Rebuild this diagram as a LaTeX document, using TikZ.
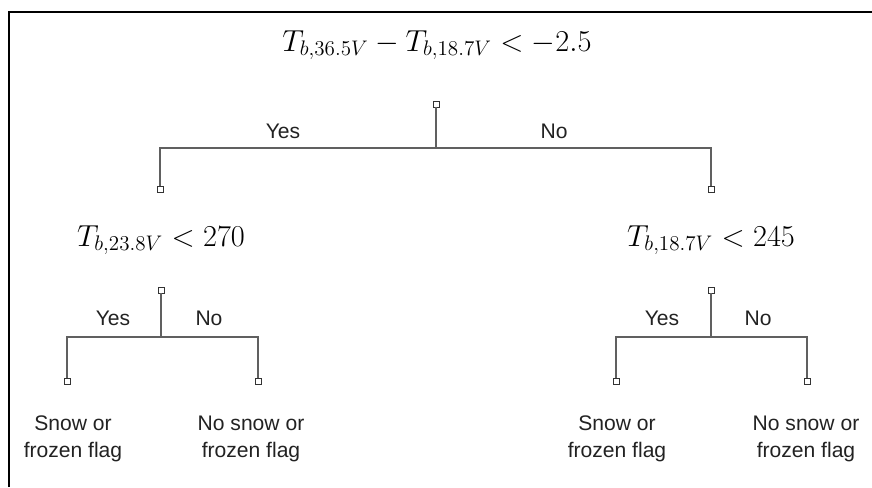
\documentclass[tikz,border=0pt]{standalone}
\usepackage{fontspec}
\newfontfamily\labelfont{Liberation Sans}
\usepackage{xcolor}
\usetikzlibrary{positioning}

\definecolor{linegray}{HTML}{606060}
\definecolor{textgray}{HTML}{222222}

\begin{document}
\begin{tikzpicture}[
    x=0.02cm, y=-0.02cm,
    frame/.style={draw=black,line width=1.1pt},
    branch/.style={draw=linegray,line width=0.8pt},
    knob/.style={rectangle,draw=black!80,fill=white,line width=0.5pt,minimum size=0.12cm,inner sep=0pt},
    test/.style={inner sep=0pt,font=\LARGE},
    answer/.style={inner sep=0pt,text=textgray,font=\labelfont\fontsize{12}{14}\selectfont},
    leaf/.style={inner sep=0pt,align=center,text=textgray,font=\labelfont\fontsize{12}{15.3}\selectfont}
]
\useasboundingbox (0,0) rectangle (872,487);
\draw[frame] (9,487) -- (9,12) -- (872,12);

% root split
\node[test] (root) at (437,45) {$T_{b,36.5V}-T_{b,18.7V}<-2.5$};
\node[knob] (rootk) at (436,104) {};
\coordinate (rootj) at (436,148);
\node[knob] (leftk) at (160,189) {};
\node[knob] (rightk) at (711,189) {};
\draw[branch] (rootk) -- (rootj);
\draw[branch] (leftk) |- (rootj) -| (rightk);
\node[answer] (rooty) at (283,131) {Yes};
\node[answer] (rootn) at (554,131) {No};

% left split
\node[test] (left) at (161,240) {$T_{b,23.8V}<270$};
\node[knob] (leftt) at (161,290) {};
\coordinate (leftj) at (161,337);
\node[knob] (llk) at (67,381) {};
\node[knob] (lrk) at (258,381) {};
\draw[branch] (leftt) -- (leftj);
\draw[branch] (llk) |- (leftj) -| (lrk);
\node[answer] (lefty) at (113,318) {Yes};
\node[answer] (leftn) at (209,318) {No};

% right split
\node[test] (right) at (711,240) {$T_{b,18.7V}<245$};
\node[knob] (rightt) at (711,290) {};
\coordinate (rightj) at (711,337);
\node[knob] (rlk) at (616,381) {};
\node[knob] (rrk) at (807,381) {};
\draw[branch] (rightt) -- (rightj);
\draw[branch] (rlk) |- (rightj) -| (rrk);
\node[answer] (righty) at (662,318) {Yes};
\node[answer] (rightn) at (758,318) {No};

% leaves
\node[leaf] (ll) at (73,439) {Snow or\\frozen flag};
\node[leaf] (lr) at (251,439) {No snow or\\frozen flag};
\node[leaf] (rl) at (617,439) {Snow or\\frozen flag};
\node[leaf] (rr) at (806,439) {No snow or\\frozen flag};
\end{tikzpicture}
\end{document}
